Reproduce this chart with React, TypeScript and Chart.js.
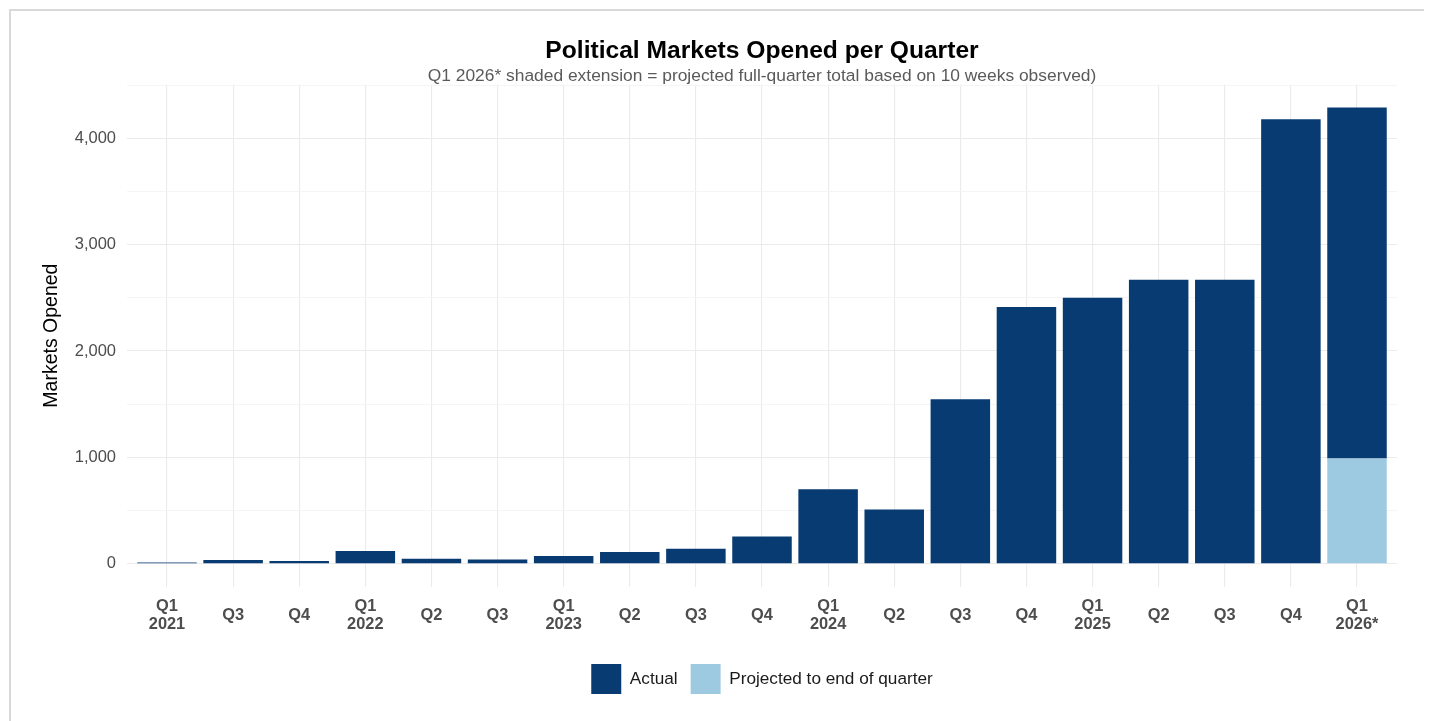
import { useEffect, useRef } from "react";
import { Chart, registerables } from "chart.js";

Chart.register(...registerables);

const FONT = "'Liberation Sans', Arial, Helvetica, sans-serif";

const quarterLabels: (string | string[])[] = [
  ["Q1", "2021"], "Q3", "Q4",
  ["Q1", "2022"], "Q2", "Q3",
  ["Q1", "2023"], "Q2", "Q3", "Q4",
  ["Q1", "2024"], "Q2", "Q3", "Q4",
  ["Q1", "2025"], "Q2", "Q3", "Q4",
  ["Q1", "2026*"],
];

const actualValues: number[] = [
  12, 35, 25, 120, 47, 40, 72, 110, 141, 257, 700, 511, 1546, 2415, 2500, 2670, 2670, 4180, 3300,
];

const projectedValues: (number | null)[] = [
  null, null, null, null, null, null, null, null, null, null, null, null, null, null, null, null, null, null, 990,
];

const yTickValues: number[] = [0, 500, 1000, 1500, 2000, 2500, 3000, 3500, 4000, 4500];

const titleText = "Political Markets Opened per Quarter";
const subtitleText =
  "Q1 2026* shaded extension = projected full-quarter total based on 10 weeks observed)";

export default function App() {
  const ref = useRef<HTMLCanvasElement>(null);

  useEffect(() => {
    if (!ref.current) return;
    const chart = new Chart(ref.current, {
      type: "bar",
      data: {
        datasets: [
          {
            label: "Projected to end of quarter",
            data: projectedValues.map((v, i) => ({ x: i, y: v })) as any,
            backgroundColor: "#9ecae1",
            borderWidth: 0,
            barPercentage: 0.9,
            categoryPercentage: 1,
          },
          {
            label: "Actual",
            data: actualValues.map((v, i) => ({ x: i, y: v })) as any,
            backgroundColor: "#083b72",
            borderWidth: 0,
            barPercentage: 0.9,
            categoryPercentage: 1,
          },
        ],
      },
      options: {
        animation: false,
        responsive: true,
        maintainAspectRatio: false,
        layout: { padding: { left: 0, right: 28, top: 0, bottom: 0 } },
        plugins: {
          title: {
            display: true,
            text: titleText,
            fullSize: false,
            color: "#000000",
            font: { family: FONT, size: 24.6, weight: "bold", lineHeight: 1.2 },
            padding: { top: 25.5, bottom: 0 },
          },
          subtitle: {
            display: true,
            text: subtitleText,
            fullSize: false,
            color: "#5a5a5a",
            font: { family: FONT, size: 17.4, lineHeight: 1 },
            padding: { top: 1, bottom: 0.2 },
          },
          legend: {
            position: "bottom",
            fullSize: false,
            reverse: true,
            labels: {
              boxWidth: 30,
              boxHeight: 30,
              padding: 13,
              color: "#1a1a1a",
              font: { family: FONT, size: 17.2 },
            },
          },
          tooltip: { enabled: false },
        },
        scales: {
          x: {
            type: "linear",
            stacked: true,
            offset: false,
            min: -0.605,
            max: 18.605,
            afterBuildTicks: (scale: any) => {
              scale.ticks = quarterLabels.map((_, i) => ({ value: i }));
            },
            afterFit: (scale: any) => {
              scale.height = 64.4;
            },
            ticks: {
              autoSkip: false,
              maxRotation: 0,
              minRotation: 0,
              crossAlign: "center",
              padding: 20.2,
              color: "#4d4d4d",
              font: { family: FONT, size: 16.4, weight: "bold", lineHeight: 1.1 },
              callback: (value: any) => {
                const i = Math.round(Number(value));
                return quarterLabels[i] ?? "";
              },
            },
            grid: { color: "#ebebeb", lineWidth: 1.1, drawTicks: false, offset: false },
            border: { display: false },
          },
          y: {
            stacked: true,
            min: -214.5,
            max: 4504.5,
            afterBuildTicks: (scale: any) => {
              scale.ticks = yTickValues.map((v) => ({ value: v }));
            },
            afterFit: (scale: any) => {
              scale.width = 116;
            },
            ticks: {
              padding: 11,
              color: "#4d4d4d",
              font: { family: FONT, size: 16.5 },
              callback: (value: any) => {
                const v = Number(value);
                return v % 1000 === 0 ? v.toLocaleString("en-US") : "";
              },
            },
            grid: {
              drawTicks: false,
              color: (ctx: any) =>
                ctx.tick && ctx.tick.value % 1000 === 0 ? "#ebebeb" : "#f4f4f4",
              lineWidth: (ctx: any) =>
                ctx.tick && ctx.tick.value % 1000 === 0 ? 1.1 : 0.9,
            },
            border: { display: false },
            title: {
              display: true,
              text: "Markets Opened",
              color: "#000000",
              font: { family: FONT, size: 19.5, lineHeight: 1.2 },
              padding: { top: 29.3, bottom: 0 },
            },
          },
        },
      },
    } as any);
    return () => chart.destroy();
  }, []);

  return (
    <>
      <style>{`body{overflow:hidden;}`}</style>
      <div
        style={{
          position: "relative",
          top: 1,
          left: 1,
          width: 1414,
          height: 720,
          border: "2px solid #d9d9d9",
          background: "#ffffff",
        }}
      >
        <div style={{ position: "relative", width: "100%", height: 693 }}>
          <canvas ref={ref} />
        </div>
      </div>
    </>
  );
}
